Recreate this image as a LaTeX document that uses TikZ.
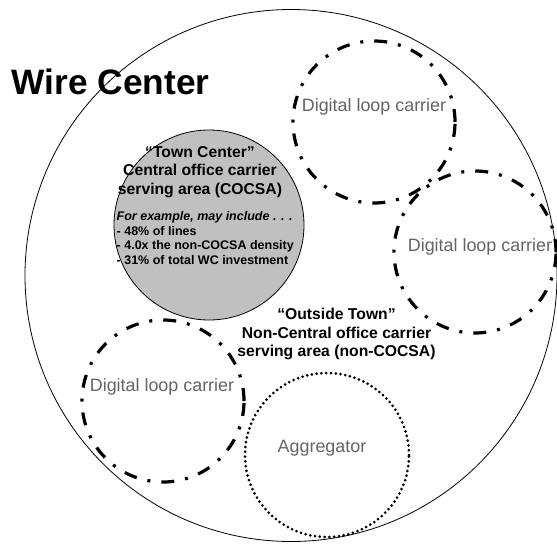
\documentclass[tikz,border=0pt]{standalone}
\usepackage{fontspec}
\setmainfont{Liberation Sans}
\usetikzlibrary{positioning}
\definecolor{cocsagray}{RGB}{192,192,192}
\definecolor{taggray}{RGB}{100,100,100}

\begin{document}
\begin{tikzpicture}[x=1pt,y=-1pt,
    area/.style={circle,draw,inner sep=0pt,minimum size=#1},
    dlc/.style={area=162pt,line width=3.2pt,dash pattern=on 13pt off 11pt on 3pt off 11pt},
    aggr/.style={area=164pt,line width=3pt,line cap=round,dash pattern=on 0pt off 4.8pt},
    tag/.style={inner sep=0pt,text=taggray,font=\fontsize{17.9}{21}\selectfont},
    head/.style={inner sep=0pt,align=center,font=\fontsize{15.7}{18.8}\selectfont\bfseries}]
  \useasboundingbox (0,0) rectangle (557,546);
  % wire center and the town
  \node[area=532pt,line width=0.8pt] (wc) at (291,275.5) {};
  \node[area=190pt,line width=0.8pt,fill=cocsagray] (cocsa) at (209,225) {};
  % carriers and aggregator
  \node[dlc] (dlcA) at (374,122) {};
  \node[dlc] (dlcB) at (475,252) {};
  \node[dlc] (dlcC) at (163,401) {};
  \node[aggr] (agg) at (327,455) {};
  % texts
  \node[inner sep=0pt,anchor=base west,font=\fontsize{35.3}{40}\selectfont\bfseries]
    (wctext) at (11.5,94) {Wire Center};
  \node[head] (towntext) at (200,172)
    {``Town Center''\\Central office carrier\\serving area (COCSA)};
  \node[inner sep=0pt,anchor=west,align=left,font=\fontsize{12.5}{14.5}\selectfont\bfseries]
    (cocsalist) at (116.5,238)
    {\itshape For example, may include . . .\\- 48\% of lines\\- 4.0x the non-COCSA density\\- 31\% of total WC investment};
  \node[head] (outtext) at (336.5,334)
    {``Outside Town''\\Non-Central office carrier\\serving area (non-COCSA)};
  \node[tag] (dlcAtext) at (374,107) {Digital loop carrier};
  \node[tag] (dlcBtext) at (480,247) {Digital loop carrier};
  \node[tag] (dlcCtext) at (162,387) {Digital loop carrier};
  \node[tag] (aggtext) at (322,448) {Aggregator};
\end{tikzpicture}
\end{document}
